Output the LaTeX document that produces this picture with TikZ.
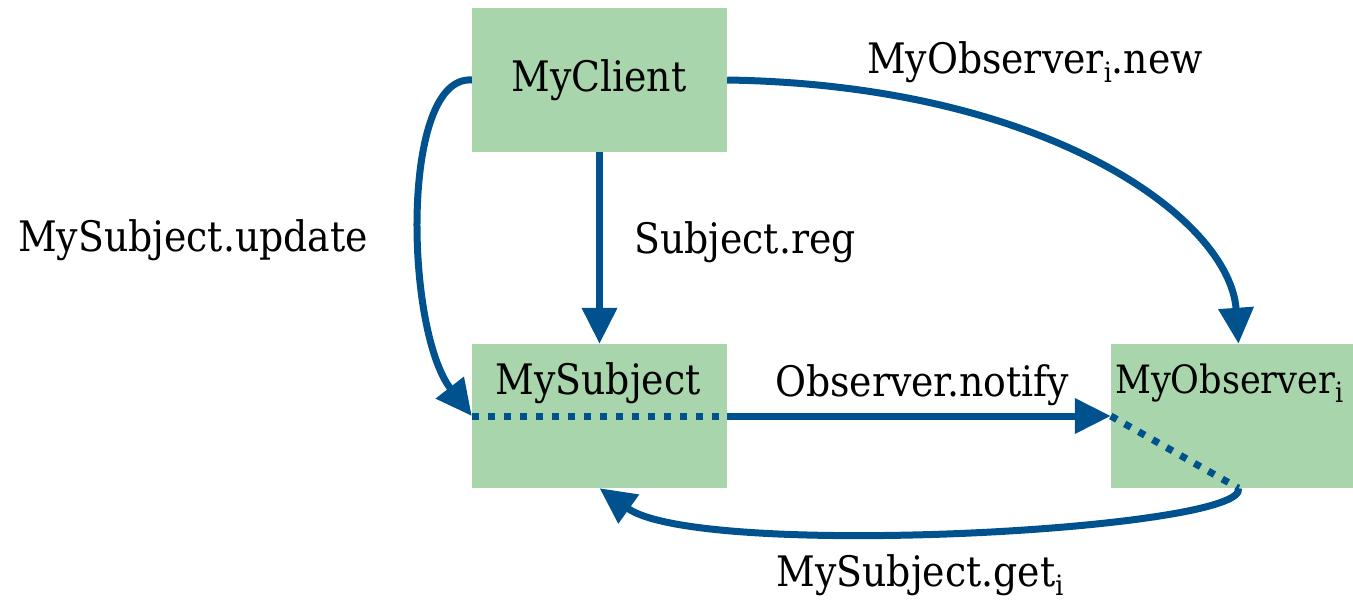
\documentclass[tikz,border=0pt]{standalone}
\usepackage{fontspec}
\setmainfont{DejaVu Serif Condensed}
\usetikzlibrary{arrows.meta}
\definecolor{boxgreen}{HTML}{A8D5AB}
\definecolor{linkblue}{HTML}{00528F}
\newcommand{\lowi}{\raisebox{-0.22em}{\fontsize{28}{30}\selectfont i}}
\tikzset{
  box/.style={fill=boxgreen, draw=none, minimum width=255pt, minimum height=144pt, inner sep=0pt},
  txt/.style={font=\fontsize{42}{48}\selectfont, inner sep=0pt, text=black},
  link/.style={draw=linkblue, line width=7pt, -{Triangle[length=36pt,width=34pt]}},
  dotlink/.style={draw=linkblue, line width=7pt, dash pattern=on 7pt off 9pt}
}
\begin{document}
\begin{tikzpicture}[x=1pt,y=-1pt]
\useasboundingbox (0,0) rectangle (1353,603);
\clip (0,0) rectangle (1353,603);
\node[box] (cli) at (599.5,80) {};
\node[box] (sub) at (599.5,416) {};
\node[box] (obs) at (1238.5,416) {};
\node[txt] (cliT) at (599,80) {MyClient};
\node[txt] (subT) at (598,383) {MySubject};
\node[txt, font=\fontsize{39}{44}\selectfont, anchor=west] (obsT) at (1115,383) {MyObserver\lowi};
% connectors
\draw[link] (cli.south) -- (sub.north);
\draw[link] (cli.east) .. controls (1050,85) and (1230,220) .. (obs.north);
\draw[link] (cli.west) .. controls (400,75) and (405,330) .. (sub.west);
\draw[dotlink] (sub.west) -- (sub.east);
\draw[link] (sub.east) -- (obs.west);
\draw[dotlink] (obs.west) -- (obs.south);
\draw[link] (obs.south) .. controls (1250,530) and (700,560) .. (sub.south);
% labels
\node[txt] (lNew) at (1035,62) {MyObserver\lowi.new};
\node[txt] (lUpd) at (193,240) {MySubject.update};
\node[txt] (lReg) at (745,242) {Subject.reg};
\node[txt] (lNot) at (922,385) {Observer.notify};
\node[txt] (lGet) at (920,575) {MySubject.get\lowi};
\end{tikzpicture}
\end{document}
